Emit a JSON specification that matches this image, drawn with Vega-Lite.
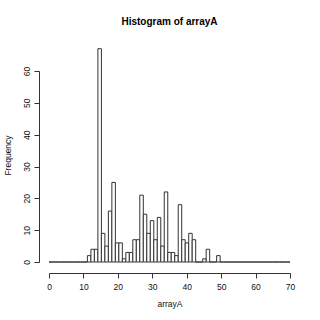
{
  "$schema": "https://vega.github.io/schema/vega-lite/v6.json",
  "width": 241,
  "height": 191,
  "autosize": {"type": "none"},
  "padding": {"left": 49, "top": 71, "right": 30, "bottom": 58},
  "background": "white",
  "title": {"text": "Histogram of arrayA", "fontSize": 10, "fontWeight": "bold", "font": "Liberation Sans", "color": "#000000", "anchor": "middle", "offset": 21},
  "config": {
    "view": {"stroke": null},
    "axis": {"grid": false, "domainColor": "#333333", "tickColor": "#333333", "labelColor": "#111111", "titleColor": "#111111", "labelFont": "Liberation Sans", "titleFont": "Liberation Sans", "labelFontSize": 8.5, "titleFontSize": 8.5, "titleFontWeight": "normal", "tickSize": 5, "domainWidth": 1, "tickWidth": 1}
  },
  "data": {
    "values": [
      {"start": 0, "end": 1.0145, "count": 0},
      {"start": 1.0145, "end": 2.029, "count": 0},
      {"start": 2.029, "end": 3.0435, "count": 0},
      {"start": 3.0435, "end": 4.058, "count": 0},
      {"start": 4.058, "end": 5.0725, "count": 0},
      {"start": 5.0725, "end": 6.087, "count": 0},
      {"start": 6.087, "end": 7.1014, "count": 0},
      {"start": 7.1014, "end": 8.1159, "count": 0},
      {"start": 8.1159, "end": 9.1304, "count": 0},
      {"start": 9.1304, "end": 10.1449, "count": 0},
      {"start": 10.1449, "end": 11.1594, "count": 0},
      {"start": 11.1594, "end": 12.1739, "count": 2},
      {"start": 12.1739, "end": 13.1884, "count": 4},
      {"start": 13.1884, "end": 14.2029, "count": 4},
      {"start": 14.2029, "end": 15.2174, "count": 67},
      {"start": 15.2174, "end": 16.2319, "count": 9},
      {"start": 16.2319, "end": 17.2464, "count": 5},
      {"start": 17.2464, "end": 18.2609, "count": 16},
      {"start": 18.2609, "end": 19.2754, "count": 25},
      {"start": 19.2754, "end": 20.2899, "count": 6},
      {"start": 20.2899, "end": 21.3043, "count": 6},
      {"start": 21.3043, "end": 22.3188, "count": 1},
      {"start": 22.3188, "end": 23.3333, "count": 3},
      {"start": 23.3333, "end": 24.3478, "count": 3},
      {"start": 24.3478, "end": 25.3623, "count": 7},
      {"start": 25.3623, "end": 26.3768, "count": 7},
      {"start": 26.3768, "end": 27.3913, "count": 21},
      {"start": 27.3913, "end": 28.4058, "count": 15},
      {"start": 28.4058, "end": 29.4203, "count": 9},
      {"start": 29.4203, "end": 30.4348, "count": 13},
      {"start": 30.4348, "end": 31.4493, "count": 7},
      {"start": 31.4493, "end": 32.4638, "count": 14},
      {"start": 32.4638, "end": 33.4783, "count": 5},
      {"start": 33.4783, "end": 34.4928, "count": 22},
      {"start": 34.4928, "end": 35.5072, "count": 3},
      {"start": 35.5072, "end": 36.5217, "count": 3},
      {"start": 36.5217, "end": 37.5362, "count": 2},
      {"start": 37.5362, "end": 38.5507, "count": 18},
      {"start": 38.5507, "end": 39.5652, "count": 7},
      {"start": 39.5652, "end": 40.5797, "count": 6},
      {"start": 40.5797, "end": 41.5942, "count": 9},
      {"start": 41.5942, "end": 42.6087, "count": 7},
      {"start": 42.6087, "end": 43.6232, "count": 0},
      {"start": 43.6232, "end": 44.6377, "count": 0},
      {"start": 44.6377, "end": 45.6522, "count": 1},
      {"start": 45.6522, "end": 46.6667, "count": 4},
      {"start": 46.6667, "end": 47.6812, "count": 0},
      {"start": 47.6812, "end": 48.6957, "count": 0},
      {"start": 48.6957, "end": 49.7101, "count": 2},
      {"start": 49.7101, "end": 50.7246, "count": 0},
      {"start": 50.7246, "end": 51.7391, "count": 0},
      {"start": 51.7391, "end": 52.7536, "count": 0},
      {"start": 52.7536, "end": 53.7681, "count": 0},
      {"start": 53.7681, "end": 54.7826, "count": 0},
      {"start": 54.7826, "end": 55.7971, "count": 0},
      {"start": 55.7971, "end": 56.8116, "count": 0},
      {"start": 56.8116, "end": 57.8261, "count": 0},
      {"start": 57.8261, "end": 58.8406, "count": 0},
      {"start": 58.8406, "end": 59.8551, "count": 0},
      {"start": 59.8551, "end": 60.8696, "count": 0},
      {"start": 60.8696, "end": 61.8841, "count": 0},
      {"start": 61.8841, "end": 62.8986, "count": 0},
      {"start": 62.8986, "end": 63.913, "count": 0},
      {"start": 63.913, "end": 64.9275, "count": 0},
      {"start": 64.9275, "end": 65.942, "count": 0},
      {"start": 65.942, "end": 66.9565, "count": 0},
      {"start": 66.9565, "end": 67.971, "count": 0},
      {"start": 67.971, "end": 68.9855, "count": 0},
      {"start": 68.9855, "end": 70, "count": 0}
    ]
  },
  "mark": {"type": "bar", "fill": "white", "stroke": "#333333", "strokeWidth": 1, "cornerRadius": 0},
  "encoding": {
    "x": {"field": "start", "type": "quantitative", "scale": {"domain": [0, 70], "nice": false, "zero": false}, "axis": {"values": [0, 10, 20, 30, 40, 50, 60, 70], "title": "arrayA", "offset": 11, "labelPadding": 4, "titlePadding": 9, "labelFlush": false}},
    "x2": {"field": "end"},
    "y": {"field": "count", "type": "quantitative", "scale": {"domain": [0, 60], "nice": false}, "axis": {"values": [0, 10, 20, 30, 40, 50, 60], "title": "Frequency", "titleY": 84, "offset": 10, "labelAngle": -90, "labelAlign": "center", "labelBaseline": "bottom", "labelPadding": 3, "titlePadding": 10}},
    "y2": {"datum": 0}
  }
}
